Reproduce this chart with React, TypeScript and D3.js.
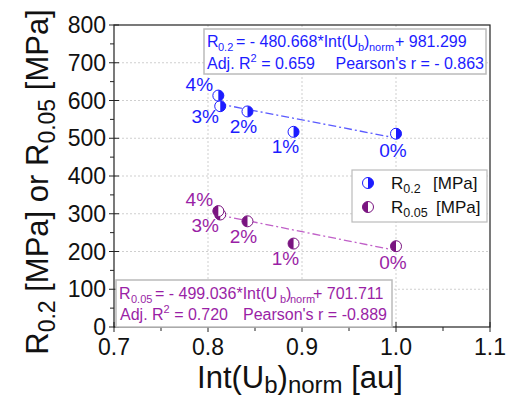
import React from 'react';
import * as d3 from 'd3';

// data
const dopants = ['0%', '1%', '2%', '3%', '4%'];
const intNorm = [1.0, 0.891, 0.842, 0.813, 0.811];
const r02 = [512, 517, 571, 585, 613];
const r005 = [214, 221, 280, 298, 307];
const fitR02 = { slope: -480.668, icpt: 981.299 };
const fitR005 = { slope: -499.036, icpt: 701.711 };
const xTicks = [0.7, 0.8, 0.9, 1.0, 1.1];
const yTicks = [0, 100, 200, 300, 400, 500, 600, 700, 800];

const W = 508;
const H = 399;
const FONT = '"Liberation Sans", Arial, sans-serif';
const BLUE = '#1c1cff';
const PURPLE = '#7a1480';
const PURPLE_TXT = '#9a1fa6';

// label offsets relative to point (style only)
const lblOff: Record<string, [number, number]> = {
  '0%': [-3, 23],
  '1%': [-8, 21],
  '2%': [-4, 22],
  '3%': [-15, 17],
  '4%': [-19, -5],
};

const HalfMarker = ({ cx, cy, color, side }: { cx: number; cy: number; color: string; side: 'left' | 'right' }) => {
  const r = 5.5;
  const sweep = side === 'right' ? 1 : 0;
  return (
    <g>
      <circle cx={cx} cy={cy} r={r} fill="#fff" stroke={color} strokeWidth={1} />
      <path d={`M${cx},${cy - r} A${r},${r} 0 0 ${sweep} ${cx},${cy + r} Z`} fill={color} />
    </g>
  );
};

const EQ = 16;
const EQS = 11;

// equation line with each piece placed explicitly
const EqLine = ({ x0, y0, color, sub, coef, icpt, px }: {
  x0: number; y0: number; color: string; sub: string; coef: string; icpt: string; px: number[];
}) => (
  <g fill={color} fontSize={EQ}>
    <text x={x0} y={y0}>R</text>
    <text x={px[0]} y={y0 + 4} fontSize={EQS}>{sub}</text>
    <text x={px[1]} y={y0}>{`= - ${coef}*Int(U`}</text>
    <text x={px[2]} y={y0 + 4} fontSize={EQS}>b</text>
    <text x={px[3]} y={y0}>)</text>
    <text x={px[4]} y={y0 + 4} fontSize={EQS}>norm</text>
    <text x={px[5]} y={y0}>{`+ ${icpt}`}</text>
  </g>
);

const App = () => {
  const m = { left: 114, right: 490, top: 25, bottom: 327 };
  const x = d3.scaleLinear().domain([0.7, 1.1]).range([m.left, m.right]);
  const y = d3.scaleLinear().domain([0, 800]).range([m.bottom, m.top]);

  const xMinor = d3.range(0.75, 1.1, 0.1);
  const yMinor = d3.range(50, 800, 100);

  const fitLine = (f: { slope: number; icpt: number }) => {
    const xs = [d3.min(intNorm)!, d3.max(intNorm)!];
    return d3.line<number>().x((v) => x(v)).y((v) => y(f.slope * v + f.icpt))(xs)!;
  };

  const series = [
    { vals: r02, color: BLUE, lineColor: '#5a5aff', side: 'right' as const, fit: fitR02 },
    { vals: r005, color: PURPLE, lineColor: '#c060c8', side: 'left' as const, fit: fitR005 },
  ];

  return (
    <svg width={W} height={H} style={{ position: 'absolute', left: 0, top: 0, background: '#fff' }} fontFamily={FONT}>
      {/* grid */}
      {xTicks.slice(1, -1).map((t) => (
        <line key={'gx' + t} x1={x(t)} x2={x(t)} y1={m.top} y2={m.bottom} stroke="#cfcfcf" strokeDasharray="2,2" />
      ))}
      {yTicks.slice(1, -1).map((t) => (
        <line key={'gy' + t} x1={m.left} x2={m.right} y1={y(t)} y2={y(t)} stroke="#cfcfcf" strokeDasharray="2,2" />
      ))}
      {/* frame */}
      <rect x={m.left} y={m.top} width={m.right - m.left} height={m.bottom - m.top} fill="none" stroke="#222" strokeWidth={1.2} />
      {/* ticks */}
      {xTicks.map((t) => (
        <g key={'xt' + t}>
          <line x1={x(t)} x2={x(t)} y1={m.bottom - 5} y2={m.bottom + 5} stroke="#222" />
          <text x={x(t)} y={m.bottom + 28} fontSize={23} textAnchor="middle" fill="#111">{t.toFixed(1)}</text>
        </g>
      ))}
      {xMinor.map((t) => (
        <line key={'xm' + t} x1={x(t)} x2={x(t)} y1={m.bottom} y2={m.bottom + 4} stroke="#222" />
      ))}
      {yTicks.map((t) => (
        <g key={'yt' + t}>
          <line x1={m.left - 5} x2={m.left + 5} y1={y(t)} y2={y(t)} stroke="#222" />
          <text x={m.left - 8} y={y(t) + 8} fontSize={23} textAnchor="end" fill="#111">{t}</text>
        </g>
      ))}
      {yMinor.map((t) => (
        <line key={'ym' + t} x1={m.left - 4} x2={m.left} y1={y(t)} y2={y(t)} stroke="#222" />
      ))}

      {/* fits and points */}
      {series.map((s, si) => (
        <g key={'s' + si}>
          <path d={fitLine(s.fit)} fill="none" stroke={s.lineColor} strokeWidth={1.3} strokeDasharray="8,3,2,3" />
          {s.vals.map((v, i) => (
            <g key={i}>
              <HalfMarker cx={x(intNorm[i])} cy={y(v)} color={s.color} side={s.side} />
              <text
                x={x(intNorm[i]) + lblOff[dopants[i]][0]}
                y={y(v) + lblOff[dopants[i]][1]}
                fontSize={19}
                textAnchor="middle"
                fill={si === 0 ? BLUE : PURPLE_TXT}
              >
                {dopants[i]}
              </text>
            </g>
          ))}
        </g>
      ))}

      {/* blue equation box */}
      <g>
        <rect x={204} y={29} width={282} height={45} fill="#fff" stroke="#bbb" strokeWidth={1.5} />
        <EqLine x0={207} y0={47} color={BLUE} sub="0.2" coef="480.668" icpt="981.299"
          px={[218, 236, 358, 364, 369, 395]} />
        <text x={207} y={69} fontSize={EQ} fill={BLUE}>
          Adj. R<tspan fontSize={EQS} dy={-7}>2</tspan>
          <tspan dy={7}> = 0.659</tspan>
        </text>
        <text x={484} y={69} fontSize={EQ} fill={BLUE} textAnchor="end">Pearson's r = - 0.863</text>
      </g>

      {/* purple equation box */}
      <g>
        <rect x={116} y={280} width={276} height={47} fill="#fff" stroke="#bbb" strokeWidth={1.5} />
        <EqLine x0={119} y0={299} color={PURPLE_TXT} sub="0.05" coef="499.036" icpt="701.711"
          px={[131, 155, 280, 286, 290, 313]} />
        <text x={120} y={320} fontSize={EQ} fill={PURPLE_TXT}>
          Adj. R<tspan fontSize={EQS} dy={-7}>2</tspan>
          <tspan dy={7}> = 0.720</tspan>
        </text>
        <text x={387} y={320} fontSize={EQ} fill={PURPLE_TXT} textAnchor="end">Pearson's r = -0.889</text>
      </g>

      {/* legend */}
      <g>
        <rect x={352} y={170} width={135} height={52} fill="#fff" stroke="#bbb" strokeWidth={1.2} />
        <HalfMarker cx={368} cy={183} color={BLUE} side="right" />
        <text x={391} y={189} fontSize={17} fill="#111">
          R<tspan fontSize={12.5} dy={4}>0.2</tspan>
        </text>
        <text x={433} y={189} fontSize={17} fill="#111">[MPa]</text>
        <HalfMarker cx={368} cy={207} color={PURPLE} side="left" />
        <text x={391} y={213} fontSize={17} fill="#111">
          R<tspan fontSize={12.5} dy={4}>0.05</tspan>
        </text>
        <text x={436} y={213} fontSize={17} fill="#111">[MPa]</text>
      </g>

      {/* axis titles */}
      <text x={300} y={388} fontSize={31} textAnchor="middle" fill="#111">
        Int(U<tspan fontSize={24} dy={5}>b</tspan>
        <tspan dy={-5}>)</tspan>
        <tspan fontSize={24} dy={5}>norm</tspan>
        <tspan dy={-5}> [au]</tspan>
      </text>
      <text transform={`translate(48,${(m.top + m.bottom) / 2 + 6}) rotate(-90)`} fontSize={31} textAnchor="middle" fill="#111">
        R<tspan fontSize={23} dy={7}>0.2</tspan>
        <tspan dy={-7}> [MPa] or R</tspan>
        <tspan fontSize={23} dy={7}>0.05</tspan>
        <tspan dy={-7}> [MPa]</tspan>
      </text>
    </svg>
  );
};

export default App;
